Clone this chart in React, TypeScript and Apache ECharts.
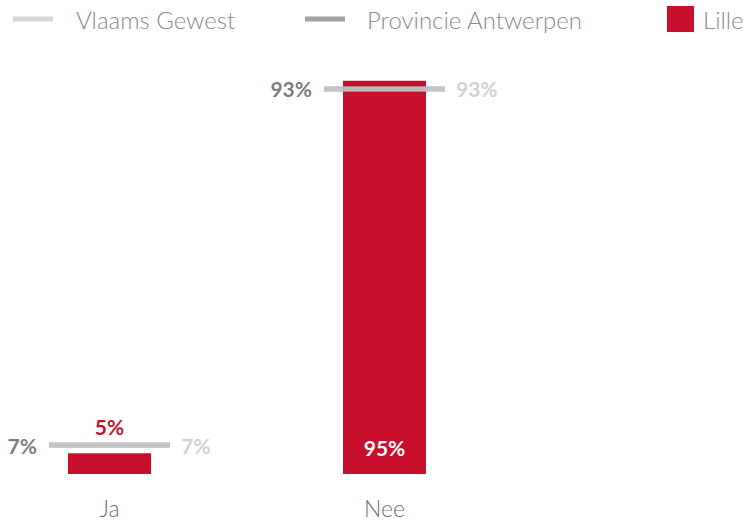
import React, { useEffect, useRef } from "react";
import * as echarts from "echarts";

const categories = ["Ja", "Nee"];
const lilleValues = [5, 95];
const vlaamsValues = [7, 93];
const provincieValues = [7, 93];

const RED = "#c8102e";
const LIGHT = "#cbcccc";
const DARK = "#898a8d";
const DARK_TEXT = "#58595b";
const FONT = "Lato";

export default function App() {
  const ref = useRef<HTMLDivElement>(null);
  useEffect(() => {
    const chart = echarts.init(ref.current!, null, { renderer: "svg" });
    const legendText = {
      color: "#8a8a8a", fontSize: 24, fontFamily: FONT, fontWeight: 300 as any, lineHeight: 28,
    };
    chart.setOption({
      animation: false,
      legend: [
        {
          data: [{ name: "Vlaams Gewest", icon: "rect" }],
          left: 8, top: 0, itemWidth: 40, itemHeight: 5,
          textStyle: { ...legendText, padding: [0, 0, 0, 18] },
          selectedMode: false,
        },
        {
          data: [{ name: "Provincie Antwerpen", icon: "rect" }],
          left: 300, top: 0, itemWidth: 40, itemHeight: 5,
          textStyle: { ...legendText, padding: [0, 0, 0, 17] },
          selectedMode: false,
        },
        {
          data: [{ name: "Lille", icon: "rect" }],
          left: 662, top: 0, itemWidth: 27, itemHeight: 26,
          textStyle: { ...legendText, padding: [0, 0, 0, 4] },
          selectedMode: false,
        },
      ],
      grid: { left: 109.5, right: 362.5, top: 60, bottom: 51 },
      xAxis: {
        type: "category",
        data: categories,
        boundaryGap: false,
        axisLine: { show: false },
        axisTick: { show: false },
        splitLine: { show: false },
        axisLabel: { color: "#6d6e70", fontSize: 23, fontFamily: FONT, fontWeight: 300, margin: 22 },
      },
      yAxis: { type: "value", min: 0, max: 100, show: false, splitLine: { show: false } },
      series: [
        {
          name: "Lille",
          type: "bar",
          barWidth: 83,
          clip: false,
          itemStyle: { color: RED },
          data: lilleValues.map((v) => ({
            value: v,
            label:
              v < 20
                ? { show: true, position: "top", distance: 16, color: RED }
                : { show: true, position: "insideBottom", distance: 16, color: "#ffffff" },
          })),
          label: { formatter: "{c}%", fontSize: 21, fontWeight: "bold", fontFamily: FONT },
          z: 1,
        },
        {
          name: "Provincie Antwerpen",
          type: "scatter",
          symbol: "rect",
          clip: false,
          symbolSize: [121, 5],
          itemStyle: { color: DARK },
          data: provincieValues,
          label: {
            show: true, position: "left", distance: 12, formatter: "{c}%",
            color: DARK_TEXT, fontSize: 21, fontWeight: "bold", fontFamily: FONT,
          },
          z: 3,
        },
        {
          name: "Vlaams Gewest",
          type: "scatter",
          symbol: "rect",
          clip: false,
          symbolSize: [121, 5],
          itemStyle: { color: LIGHT },
          data: vlaamsValues,
          label: {
            show: true, position: "right", distance: 11, formatter: "{c}%",
            color: "#c4c5c6", fontSize: 21, fontWeight: "bold", fontFamily: FONT,
          },
          z: 4,
        },
      ],
    });
    return () => chart.dispose();
  }, []);
  return (
    <div
      ref={ref}
      style={{ position: "fixed", left: 0, top: 0, width: 747, height: 525, background: "#fff" }}
    />
  );
}
